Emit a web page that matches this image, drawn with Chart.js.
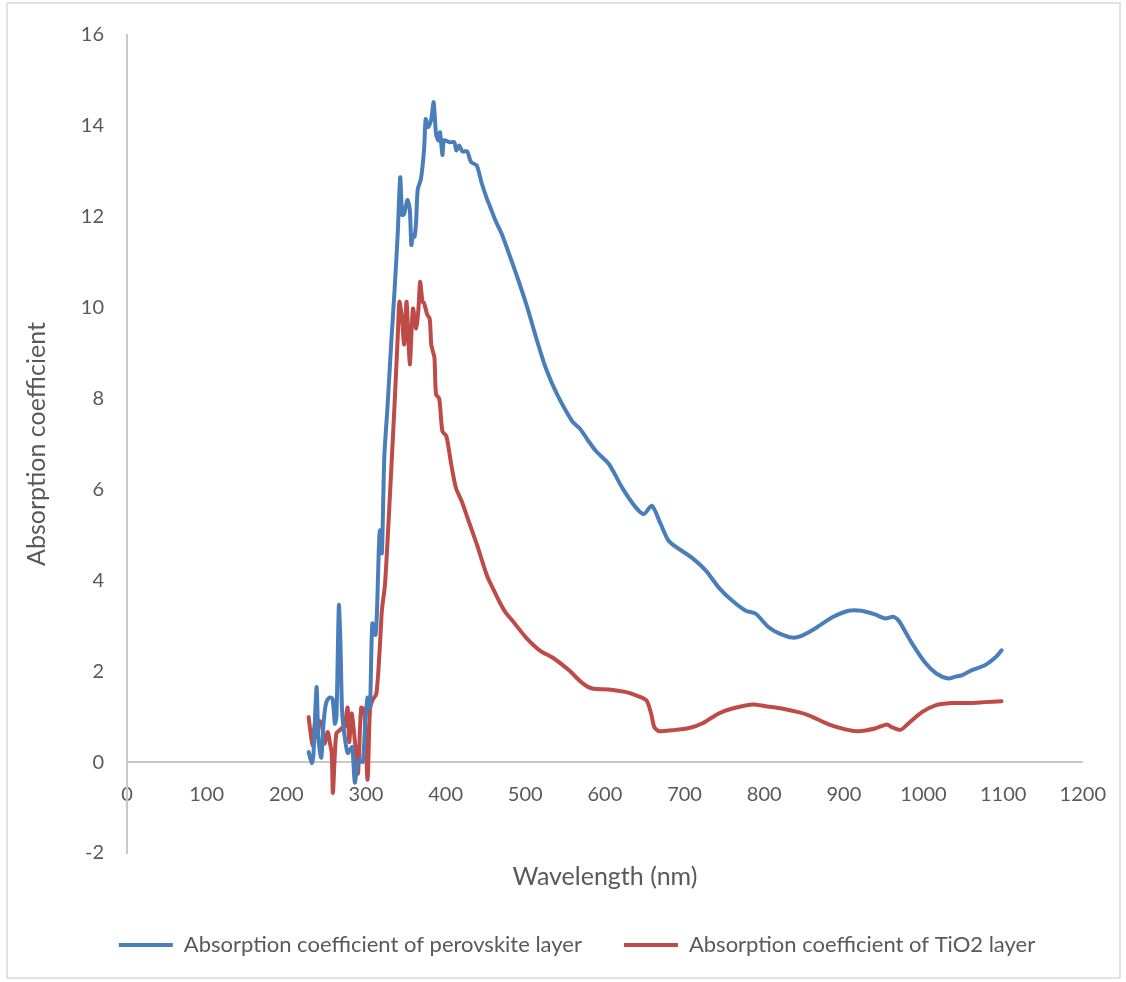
<!DOCTYPE html>
<html>
<head>
<meta charset="utf-8">
<script src="https://cdn.jsdelivr.net/npm/chart.js@4.4.1/dist/chart.umd.min.js"></script>
<style>
  html, body { margin: 0; padding: 0; background: #fff; }
  #wrap { width: 1126px; height: 982px; }
</style>
</head>
<body>
<div id="wrap"><canvas id="absChart" width="1126" height="982"></canvas></div>
<script>
// values — wavelength (nm) vs absorption coefficient
const perovskiteNm = [
  228, 232, 234, 238, 240, 242, 244, 247, 250, 254, 258, 261, 263, 266, 268, 270, 273, 277, 281, 283,
  286, 289, 292, 296, 299, 302, 305, 308, 312, 314, 316, 317.5, 320, 323, 327, 332, 336, 340, 343, 345.5,
  348, 352, 355, 357, 359, 361, 363, 365, 369, 373, 375, 378, 382, 385, 388, 391, 393, 396, 398, 405,
  411, 413.5, 417, 421, 427, 432, 439, 445, 452, 455, 463, 471, 482, 492, 503, 514, 526, 540, 559, 568,
  578, 589, 605, 622, 639, 649, 659, 670, 680, 693, 709, 727, 743, 760, 777, 789, 806, 818, 835, 847,
  864, 885, 906, 922, 939, 952, 962, 969, 985, 1002, 1016, 1031, 1040, 1048, 1060, 1077, 1090, 1098
];
const perovskiteAbs = [
  0.22, -0.02, 0.15, 1.65, 0.6, 0.25, 0.1, 0.9, 1.3, 1.42, 1.4, 0.85, 1.0, 3.45, 2.6, 1.14, 0.6, 0.2, 0.3, 0.33,
  -0.45, -0.1, 0.05, 0.0, 0.8, 1.42, 1.2, 3.05, 2.8, 3.4, 4.6, 5.1, 4.6, 6.7, 7.8, 9.3, 10.4, 11.67, 12.87, 12.04,
  12.06, 12.37, 12.17, 11.38, 11.6, 11.56, 11.9, 12.6, 12.83, 13.49, 14.15, 13.97, 14.15, 14.52, 13.82, 13.68, 13.86, 13.36, 13.68, 13.64,
  13.64, 13.46, 13.57, 13.44, 13.44, 13.2, 13.13, 12.76, 12.39, 12.26, 11.9, 11.6, 11.07, 10.57, 9.98, 9.32, 8.66, 8.09, 7.5, 7.35,
  7.1, 6.84, 6.56, 6.03, 5.6, 5.46, 5.64, 5.24, 4.87, 4.69, 4.5, 4.21, 3.84, 3.55, 3.33, 3.27, 2.96, 2.84, 2.74, 2.78,
  2.94, 3.18, 3.33, 3.33, 3.25, 3.16, 3.2, 3.11, 2.63, 2.19, 1.95, 1.84, 1.88, 1.91, 2.02, 2.13, 2.3, 2.46
];

const tio2Nm = [
  228, 233, 236, 238, 241, 244, 248, 252, 255, 257, 258.5, 261, 263, 267, 270, 273, 277, 279, 282, 286,
  290, 294, 298, 302, 305, 308, 313, 317, 320, 324, 330, 336, 340, 342, 345, 348, 351, 355, 359, 363,
  366, 368, 371, 373, 377, 380, 382, 384, 386, 388, 392, 396, 401, 407, 413, 420, 430, 440, 452, 460,
  467, 475, 484, 501, 518, 536, 555, 571, 584, 605, 627, 639, 652, 658, 662, 668, 684, 706, 722, 743,
  760, 785, 802, 822, 843, 856, 881, 902, 918, 939, 954, 960, 971, 981, 998, 1015, 1035, 1056, 1077, 1098
];
const tio2Abs = [
  0.99, 0.37, 0.85, 0.55, 0.9, 0.88, 0.41, 0.66, 0.4, 0.2, -0.68, 0.2, 0.64, 0.7, 0.75, 0.77, 1.2, 0.44, 1.07, 0.48,
  -0.25, 1.2, 1.14, -0.39, 1.14, 1.36, 1.5, 2.4, 3.33, 3.93, 5.83, 7.9, 9.4, 10.13, 9.8, 9.19, 10.13, 8.75, 9.98, 9.54,
  10.0, 10.57, 10.13, 10.1, 9.84, 9.76, 9.19, 9.04, 8.9, 8.09, 8.0, 7.28, 7.17, 6.56, 6.03, 5.75, 5.25, 4.75, 4.1, 3.8,
  3.55, 3.3, 3.11, 2.74, 2.46, 2.28, 2.02, 1.75, 1.62, 1.6, 1.54, 1.47, 1.36, 1.07, 0.77, 0.68, 0.7, 0.75, 0.85, 1.07,
  1.18, 1.27, 1.23, 1.18, 1.1, 1.03, 0.83, 0.72, 0.68, 0.74, 0.83, 0.77, 0.71, 0.85, 1.1, 1.25, 1.3, 1.3, 1.32, 1.34
];

const seriesLabels = ["Absorption coefficient of perovskite layer", "Absorption coefficient of TiO2 layer"];
const seriesColors = ["#4a7ebb", "#be4b48"];

const TEXT = "#595959";
const AXIS = "#c8c8c8";
const FONT = "Lato, 'Open Sans', sans-serif";

const toPoints = (xs, ys) => xs.map((x, i) => ({ x, y: ys[i] }));

// light grey frame round the whole chart, like the Excel export
const framePlugin = {
  id: "frame",
  beforeDraw(chart) {
    const { ctx, width, height } = chart;
    ctx.save();
    ctx.fillStyle = "#fff";
    ctx.fillRect(0, 0, width, height);
    ctx.strokeStyle = "#d9d9d9";
    ctx.lineWidth = 1.5;
    ctx.strokeRect(7, 3, width - 13, height - 7);
    ctx.restore();
  }
};

const datasets = [
  { label: seriesLabels[0], data: toPoints(perovskiteNm, perovskiteAbs) },
  { label: seriesLabels[1], data: toPoints(tio2Nm, tio2Abs) }
].map((d, i) => ({
  ...d,
  borderColor: seriesColors[i],
  backgroundColor: seriesColors[i],
  borderWidth: 4,
  pointRadius: 0,
  tension: 0.25,
  borderCapStyle: "round",
  borderJoinStyle: "round",
}));

new Chart(document.getElementById("absChart"), {
  type: "line",
  data: { datasets },
  plugins: [framePlugin],
  options: {
    responsive: false,
    devicePixelRatio: 1,
    animation: false,
    // left padding pushes the centred legend right; y axis is narrowed to match
    layout: { padding: { left: 70, right: 42, top: 32, bottom: 16 } },
    plugins: {
      tooltip: { enabled: false },
      legend: {
        position: "bottom",
        labels: {
          color: TEXT,
          font: { family: FONT, size: 22 },
          boxWidth: 54,
          boxHeight: 4,
          padding: 42,
          generateLabels(chart) {
            return Chart.defaults.plugins.legend.labels.generateLabels(chart).map(item => ({
              ...item, lineWidth: 0, fillStyle: item.strokeStyle
            }));
          }
        }
      }
    },
    scales: {
      x: {
        type: "linear",
        position: { y: 0 },
        min: 0,
        max: 1200,
        ticks: {
          stepSize: 100, color: TEXT, font: { family: FONT, size: 20 }, padding: 20, maxRotation: 0,
          callback: v => String(v)
        },
        grid: { display: false, drawTicks: false },
        border: { display: true, color: AXIS, width: 2 }
      },
      // carries only the x title, so it sits under the plot area
      xTitle: {
        type: "linear",
        axis: "x",
        position: "bottom",
        min: 0,
        max: 1200,
        ticks: { display: false },
        grid: { display: false, drawTicks: false },
        border: { display: false },
        title: {
          display: true,
          text: "Wavelength (nm)",
          color: TEXT,
          font: { family: FONT, size: 25 },
          padding: { top: 9, bottom: 0 }
        }
      },
      y: {
        min: -2,
        max: 16,
        ticks: { stepSize: 2, color: TEXT, font: { family: FONT, size: 20 }, padding: 23 },
        grid: { display: false, drawTicks: false },
        border: { display: true, color: AXIS, width: 2 },
        title: {
          display: true,
          text: "Absorption coefficient",
          color: TEXT,
          font: { family: FONT, size: 25 },
          padding: { top: -48, bottom: 0 }
        },
        afterFit(scale) { scale.width = 57; }
      }
    }
  }
});
</script>
</body>
</html>
